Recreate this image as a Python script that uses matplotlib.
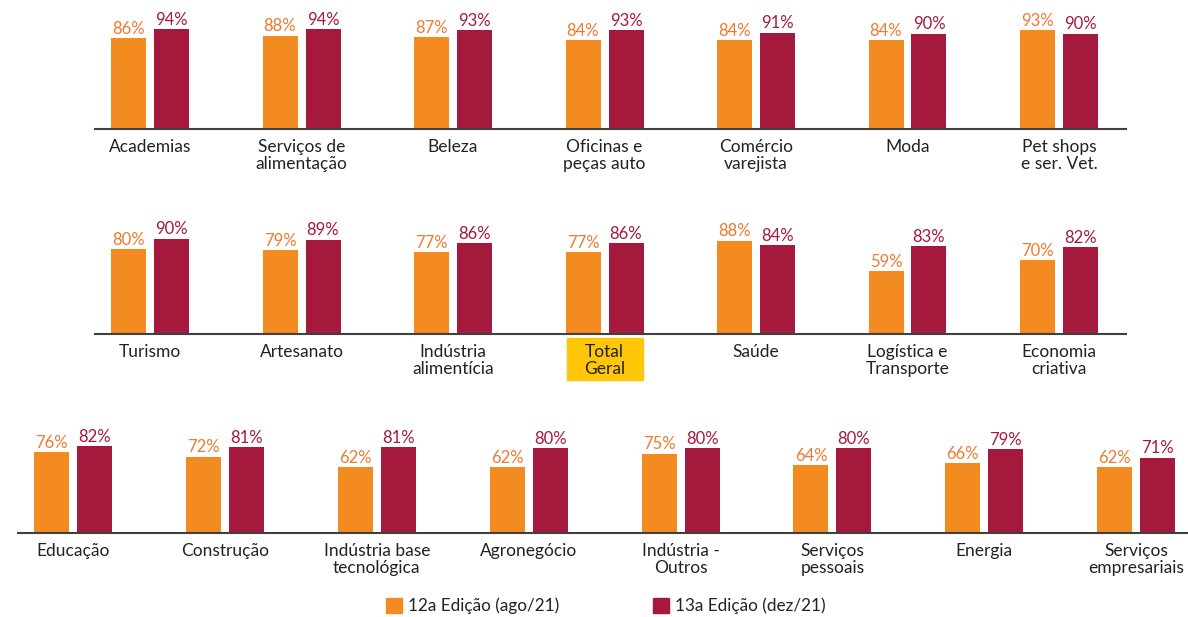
import matplotlib
matplotlib.use("Agg")
import matplotlib.pyplot as plt
import numpy as np

plt.rcParams['font.family'] = ['Lato', 'DejaVu Sans']

row1_cats = ["Academias", "Serviços de\nalimentação", "Beleza", "Oficinas e\npeças auto",
             "Comércio\nvarejista", "Moda", "Pet shops\ne ser. Vet."]
row1_ed12 = [86, 88, 87, 84, 84, 84, 93]
row1_ed13 = [94, 94, 93, 93, 91, 90, 90]

row2_cats = ["Turismo", "Artesanato", "Indústria\nalimentícia", "Total\nGeral",
             "Saúde", "Logística e\nTransporte", "Economia\ncriativa"]
row2_ed12 = [80, 79, 77, 77, 88, 59, 70]
row2_ed13 = [90, 89, 86, 86, 84, 83, 82]

row3_cats = ["Educação", "Construção", "Indústria base\ntecnológica", "Agronegócio",
             "Indústria -\nOutros", "Serviços\npessoais", "Energia", "Serviços\nempresariais"]
row3_ed12 = [76, 72, 62, 62, 75, 64, 66, 62]
row3_ed13 = [82, 81, 81, 80, 80, 80, 79, 71]

legend_labels = ["12a Edição (ago/21)", "13a Edição (dez/21)"]

C_OR = "#F48B20"
C_RD = "#A51A3C"
T_OR = "#F07A30"
T_RD = "#A51A3C"
TXT = "#222222"
HIGHLIGHT = "Total\nGeral"

W, H = 1188, 617
fig = plt.figure(figsize=(W / 100, H / 100), dpi=100)

PX_PER_PCT = 1.06
FS_VAL = 12
FS_CAT = 12.5


def draw_row(cats, a, b, left_px, right_px, first_center_px, spacing_px, baseline_px):
    n = len(cats)
    height_px = 100 * PX_PER_PCT
    ax = fig.add_axes([left_px / W, 1 - baseline_px / H, (right_px - left_px) / W, height_px / H])
    xl = (left_px - first_center_px) / spacing_px
    xr = (right_px - first_center_px) / spacing_px
    ax.set_xlim(xl, xr)
    ax.set_ylim(0, 100)
    x = np.arange(n)
    bw = 35 / spacing_px
    off = 21.5 / spacing_px
    ax.bar(x - off, a, width=bw, color=C_OR, zorder=2)
    ax.bar(x + off, b, width=bw, color=C_RD, zorder=2)
    for i in range(n):
        ax.text(x[i] - off, a[i] + 1.2, f"{a[i]}%", ha="center", va="bottom",
                color=T_OR, fontsize=FS_VAL, clip_on=False)
        ax.text(x[i] + off, b[i] + 1.2, f"{b[i]}%", ha="center", va="bottom",
                color=T_RD, fontsize=FS_VAL, clip_on=False)
        if cats[i] == HIGHLIGHT:
            bx_w = 76 / spacing_px
            ax.add_patch(plt.Rectangle((x[i] - bx_w / 2, -46 / PX_PER_PCT), bx_w,
                                       42 / PX_PER_PCT, color="#FFC708",
                                       clip_on=False, zorder=1))
        ax.text(x[i], -9.5, cats[i], ha="center", va="top", color=TXT,
                fontsize=FS_CAT, linespacing=1.05, clip_on=False, zorder=3)
    for s in ["top", "right", "left"]:
        ax.spines[s].set_visible(False)
    ax.spines["bottom"].set_color("#404040")
    ax.spines["bottom"].set_linewidth(1.5)
    ax.set_xticks([])
    ax.set_yticks([])
    ax.patch.set_alpha(0)
    return ax


draw_row(row1_cats, row1_ed12, row1_ed13, 95, 1126, 150, 151.5, 129)
draw_row(row2_cats, row2_ed12, row2_ed13, 95, 1126, 150, 151.5, 334)
draw_row(row3_cats, row3_ed12, row3_ed13, 18, 1188, 73, 151.9, 533)

# legend
for xs, col, lab in [(386, C_OR, legend_labels[0]), (653, C_RD, legend_labels[1])]:
    fig.patches.append(plt.Rectangle((xs / W, 1 - 613 / H), 16 / W, 15 / H,
                                     transform=fig.transFigure, color=col))
    fig.text((xs + 22) / W, 1 - 606 / H, lab, ha="left", va="center",
             color=TXT, fontsize=12.3)

fig.savefig("out.png", dpi=100)
